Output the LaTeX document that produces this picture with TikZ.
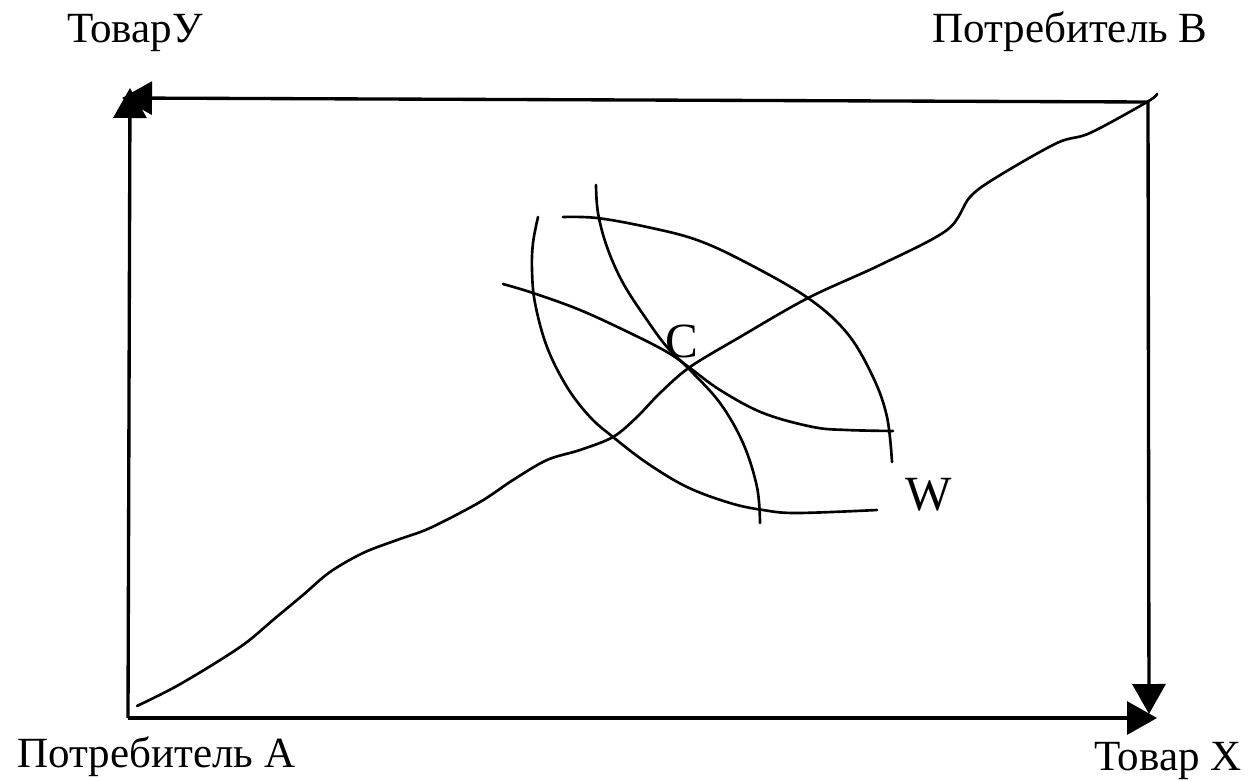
\documentclass[tikz,border=0pt]{standalone}
\usepackage{fontspec}
\setmainfont{Liberation Serif}
\usetikzlibrary{arrows.meta}
\begin{document}
\begin{tikzpicture}[x=0.02cm,y=-0.02cm,
  axis/.style={line width=1.9pt,-{Triangle[length=0.6cm,width=0.66cm]}},
  curve/.style={line width=1.5pt,line cap=round},
  lbl/.style={inner sep=0,font=\fontsize{24.5}{28}\selectfont},
  big/.style={inner sep=0,font=\fontsize{28}{32}\selectfont}]
\useasboundingbox (0,0) rectangle (1251,781);
\coordinate (OA) at (128,718);
\coordinate (OB) at (1148,102);
\coordinate (Ytip) at (130,88);
\coordinate (Ltip) at (122,98);
\coordinate (Dtip) at (1149,714);
\coordinate (Xtip) at (1157,718);
\draw[axis] (OA) -- (Ytip);
\draw[axis] (OA) -- (Xtip);
\draw[axis] (OB) -- (Ltip);
\draw[axis] (OB) -- (Dtip);
% contract curve
\draw[curve] plot[smooth,tension=0.55] coordinates {(137,706) (175,687) (217,662) (247,642) (273,620) (303,595) (330,572) (363,553) (397,540) (430,528) (480,502) (513,480) (547,460) (580,450) (613,437) (637,417) (660,393) (690,367) (740,337) (808,298) (880,265) (947,230) (970,197) (997,177) (1057,143) (1090,133) (1147,102) (1157,94)};
% lens lower-left
\draw[curve] plot[smooth,tension=0.6] coordinates {(538,217) (533,243) (532,270) (535,303) (547,347) (567,387) (590,417) (613,437) (647,463) (687,487) (730,503) (763,510) (797,513) (877,510)};
% lens upper-right
\draw[curve] plot[smooth,tension=0.6] coordinates {(563,217) (597,218) (647,227) (697,240) (747,263) (808,298) (847,333) (873,377) (887,417) (892,462)};
% steep curve through C
\draw[curve] plot[smooth,tension=0.6] coordinates {(596,185) (598,213) (607,247) (623,283) (647,320) (667,347) (690,370) (720,403) (743,443) (757,487) (760,523)};
% shallow curve through C
\draw[curve] plot[smooth,tension=0.6] coordinates {(503,284) (533,293) (580,310) (630,333) (667,352) (690,368) (720,390) (763,413) (813,427) (847,430) (893,431)};
\node[lbl,anchor=base west] (ty) at (67,42) {ТоварУ};
\node[lbl,anchor=base east] (pb) at (1208,42) {Потребитель B};
\node[lbl,anchor=base west] (pa) at (17,767) {Потребитель А};
\node[lbl,anchor=base east] (tx) at (1242,770) {Товар X};
\node[big,anchor=base west] (c) at (665,357) {C};
\node[big,anchor=base west] (w) at (905,510) {W};
\end{tikzpicture}
\end{document}
